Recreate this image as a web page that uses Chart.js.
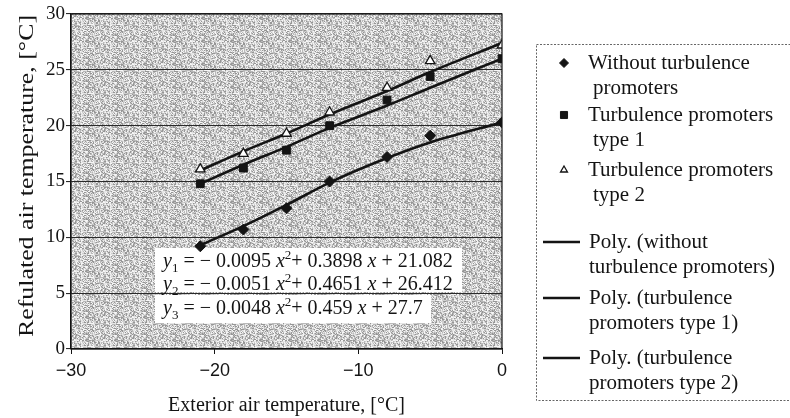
<!DOCTYPE html>
<html>
<head>
<meta charset="utf-8">
<script src="https://cdn.jsdelivr.net/npm/chart.js@4/dist/chart.umd.min.js"></script>
<style>
  html, body { margin: 0; padding: 0; background: #fff; }
  #wrap { position: relative; width: 790px; height: 418px; }
</style>
</head>
<body>
<div id="wrap"><canvas id="tempChart" width="790" height="418"></canvas></div>
<script>
// ---- data ----
const exteriorTemp     = [-21, -18, -15, -12, -8, -5, 0];
const withoutPromoters = [9.2, 10.7, 12.6, 15.0, 17.2, 19.1, 20.3];
const promotersType1   = [14.8, 16.2, 17.8, 20.0, 22.3, 24.4, 26.0];
const promotersType2   = [16.1, 17.5, 19.3, 21.2, 23.4, 25.8, 27.2];
// trend lines as they appear in the picture
const polyWithout = [9.3, 11.0, 12.9, 14.9, 17.1, 18.5, 20.3];
const polyType1   = [14.8, 16.5, 18.1, 19.8, 21.8, 23.4, 26.0];
const polyType2   = [16.0, 17.7, 19.3, 21.0, 23.1, 24.8, 27.4];

const xTicks = [-30, -20, -10, 0];
const yTicks = [0, 5, 10, 15, 20, 25, 30];

const legendLines = [
    ['Without turbulence', 'promoters'],
    ['Turbulence promoters', 'type 1'],
    ['Turbulence promoters', 'type 2'],
    ['Poly. (without', 'turbulence promoters)'],
    ['Poly. (turbulence', 'promoters type 1)'],
    ['Poly. (turbulence', 'promoters type 2)']
];

const equations = [
    [['y', 'i'], ['1', 'sub'], [' = − 0.0095 ', 'n'], ['x', 'i'], ['2', 'sup'], ['+ 0.3898 ', 'n'], ['x', 'i'], [' + 21.082', 'n']],
    [['y', 'i'], ['2', 'sub'], [' = − 0.0051 ', 'n'], ['x', 'i'], ['2', 'sup'], ['+ 0.4651 ', 'n'], ['x', 'i'], [' + 26.412', 'n']],
    [['y', 'i'], ['3', 'sub'], [' = − 0.0048 ', 'n'], ['x', 'i'], ['2', 'sup'], ['+ 0.459 ', 'n'], ['x', 'i'], [' + 27.7', 'n']]
];

const xTitle = 'Exterior air temperature, [°C]';
const yTitle = 'Refulated air temperature, [°C]';

const INK = '#141414';
const SERIF = '"Liberation Serif", "Times New Roman", serif';

function toPoints(values) {
    return exteriorTemp.map((x, i) => ({ x: x, y: values[i] }));
}

// stippled grey background like the scan
function makeTexture() {
    const c = document.createElement('canvas');
    c.width = 29; c.height = 23;
    const g = c.getContext('2d');
    const levels = [150, 185, 208, 230, 246];
    for (let i = 0; i < 29; i++) {
        for (let j = 0; j < 23; j++) {
            const h = ((i * 7 + j * 13 + (i * j) % 11 + (i ^ j) * 3) % 17) % 5;
            const v = levels[h];
            g.fillStyle = `rgb(${v},${v},${v})`;
            g.fillRect(i, j, 1, 1);
        }
    }
    return c;
}

const backgroundPlugin = {
    id: 'plotBackground',
    beforeDraw(chart) {
        const { ctx, chartArea: a } = chart;
        ctx.save();
        ctx.fillStyle = ctx.createPattern(makeTexture(), 'repeat');
        ctx.fillRect(a.left, a.top, a.right - a.left, a.bottom - a.top);
        ctx.restore();
    }
};

function drawEquation(ctx, x, baseline, parts) {
    parts.forEach(([txt, kind]) => {
        let font = '20px ' + SERIF, dy = 0;
        if (kind === 'i') font = 'italic 20px ' + SERIF;
        if (kind === 'sub') { font = '13px ' + SERIF; dy = 5; }
        if (kind === 'sup') { font = '13px ' + SERIF; dy = -8; }
        ctx.font = font;
        ctx.fillText(txt, x, baseline + dy);
        x += ctx.measureText(txt).width;
    });
}

const equationPlugin = {
    id: 'equations',
    beforeDatasetsDraw(chart) {
        const ctx = chart.ctx;
        ctx.save();
        ctx.fillStyle = '#fff';
        ctx.fillRect(155, 248, 307, 44);
        ctx.fillRect(155, 295, 276, 28);
        ctx.fillStyle = INK;
        ctx.textBaseline = 'alphabetic';
        const baselines = [267, 290, 314];
        equations.forEach((eq, i) => drawEquation(ctx, 163, baselines[i], eq));
        ctx.restore();
    }
};

const framePlugin = {
    id: 'frameAndLegend',
    afterDraw(chart) {
        const { ctx, chartArea: a } = chart;
        ctx.save();
        // plot frame
        ctx.strokeStyle = INK;
        ctx.lineWidth = 1.2;
        ctx.strokeRect(a.left, a.top, a.right - a.left, a.bottom - a.top);

        // y title (stretched like the scan)
        ctx.save();
        ctx.font = '20px ' + SERIF;
        const w = ctx.measureText(yTitle).width;
        ctx.translate(33, 176);
        ctx.rotate(-Math.PI / 2);
        ctx.scale(322 / w, 1);
        ctx.fillStyle = INK;
        ctx.textAlign = 'center';
        ctx.textBaseline = 'alphabetic';
        ctx.fillText(yTitle, 0, 0);
        ctx.restore();

        // legend box
        ctx.strokeStyle = '#666';
        ctx.lineWidth = 1;
        ctx.setLineDash([2, 1.5]);
        ctx.strokeRect(536.5, 44.5, 300, 356);
        ctx.setLineDash([]);

        const rowY = [63, 115, 170, 242, 298, 358];
        ctx.font = '21px ' + SERIF;
        ctx.textBaseline = 'middle';
        chart.data.datasets.forEach((ds, i) => {
            const y = rowY[i];
            ctx.strokeStyle = INK;
            ctx.fillStyle = ds.pointBackgroundColor || INK;
            if (ds.showLine) {
                ctx.lineWidth = 2.5;
                ctx.beginPath();
                ctx.moveTo(543, y);
                ctx.lineTo(580, y);
                ctx.stroke();
            } else {
                const r = ds.pointStyle === 'rectRot' ? 4.5 : (ds.pointStyle === 'rect' ? 5 : 4);
                ctx.lineWidth = ds.pointBorderWidth;
                Chart.helpers.drawPoint(ctx, { pointStyle: ds.pointStyle, radius: r, rotation: 0, borderWidth: ds.pointBorderWidth }, 564, y);
            }
            ctx.fillStyle = INK;
            ctx.fillText(legendLines[i][0], ds.showLine ? 589 : 588, y);
            ctx.fillText(legendLines[i][1], ds.showLine ? 589 : 593, y + 25);
        });
        ctx.restore();
    }
};

function initChart() {
    const ctx = document.getElementById('tempChart');

    const pointSet = (i, values, style, radius, fill, border) => ({
        label: legendLines[i].join(' '),
        data: toPoints(values),
        showLine: false,
        pointStyle: style,
        pointRadius: radius,
        pointBackgroundColor: fill,
        pointBorderColor: INK,
        pointBorderWidth: border,
        order: 1
    });
    const lineSet = (i, values) => ({
        label: legendLines[i].join(' '),
        data: toPoints(values),
        showLine: true,
        borderColor: INK,
        borderWidth: 2.6,
        pointRadius: 0,
        tension: 0.4,
        cubicInterpolationMode: 'monotone',
        order: 2
    });

    new Chart(ctx, {
        type: 'scatter',
        data: {
            datasets: [
                pointSet(0, withoutPromoters, 'rectRot', 5.5, INK, 1),
                pointSet(1, promotersType1, 'rect', 5.5, INK, 1),
                pointSet(2, promotersType2, 'triangle', 5.5, '#fff', 1.3),
                lineSet(3, polyWithout),
                lineSet(4, polyType1),
                lineSet(5, polyType2)
            ]
        },
        options: {
            responsive: false,
            animation: false,
            layout: { padding: { top: 14, right: 288, left: 0, bottom: 0 } },
            scales: {
                x: {
                    type: 'linear',
                    min: xTicks[0],
                    max: xTicks[xTicks.length - 1],
                    afterFit: s => { s.height = 69; },
                    afterBuildTicks: s => { s.ticks = xTicks.map(v => ({ value: v })); },
                    ticks: {
                        padding: 6,
                        color: INK,
                        font: { family: '"Liberation Sans", Arial, sans-serif', size: 18 },
                        callback: v => v < 0 ? '−' + Math.abs(v) : String(v)
                    },
                    grid: { drawOnChartArea: false, drawTicks: true, tickLength: 5, color: INK },
                    border: { color: INK, width: 1.2 },
                    title: {
                        display: true,
                        text: xTitle,
                        color: INK,
                        font: { family: SERIF, size: 20 },
                        padding: { top: 0, bottom: 0 }
                    }
                },
                y: {
                    min: yTicks[0],
                    max: yTicks[yTicks.length - 1],
                    afterFit: s => { s.width = 71; },
                    afterBuildTicks: s => { s.ticks = yTicks.map(v => ({ value: v })); },
                    ticks: {
                        padding: 1,
                        color: INK,
                        font: { family: SERIF, size: 19 }
                    },
                    grid: { color: '#2a2a2a', lineWidth: 1.1, tickLength: 5 },
                    border: { color: INK, width: 1.2 }
                }
            },
            plugins: {
                legend: { display: false },
                tooltip: { enabled: false }
            }
        },
        plugins: [backgroundPlugin, equationPlugin, framePlugin]
    });
}

initChart();
</script>
</body>
</html>
